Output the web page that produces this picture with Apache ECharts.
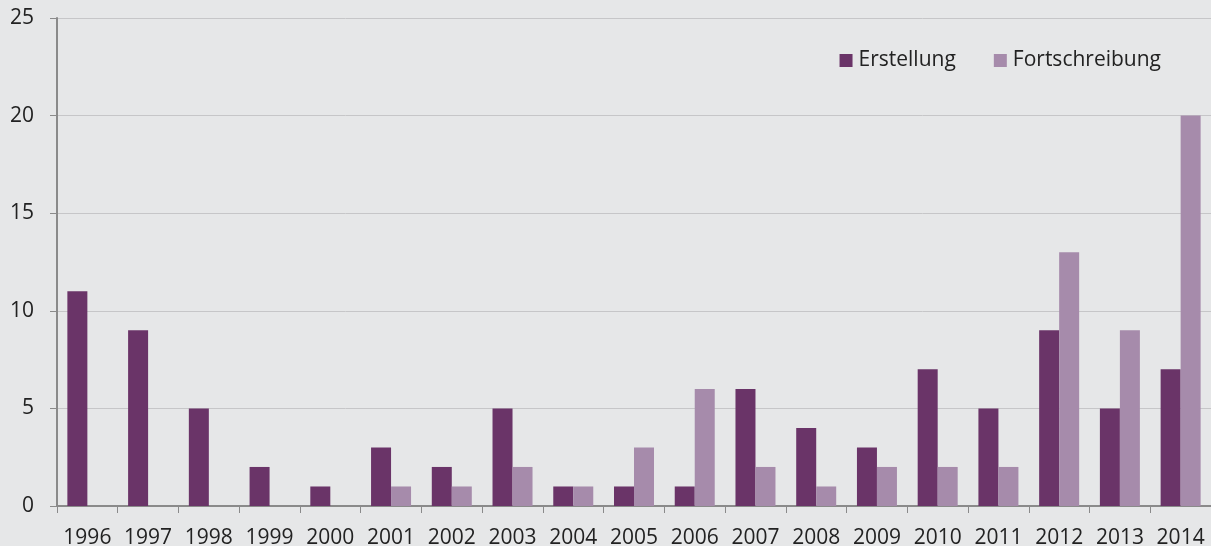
<!DOCTYPE html>
<html><head><meta charset="utf-8">
<script src="https://cdn.jsdelivr.net/npm/echarts@6/dist/echarts.min.js"></script>
<style>html,body{margin:0;padding:0;background:#e6e7e8}#c{width:1211px;height:546px}</style>
</head><body><div id="c"></div>
<script>
const years = ['1996','1997','1998','1999','2000','2001','2002','2003','2004','2005','2006','2007','2008','2009','2010','2011','2012','2013','2014'];
const erstellung = [11,9,5,2,1,3,2,5,1,1,1,6,4,3,7,5,9,5,7];
const fortschreibung = [0,0,0,0,0,1,1,2,1,3,6,2,1,2,2,2,13,9,20];
const yTicks = [0,5,10,15,20,25];

const chart = echarts.init(document.getElementById('c'), null, {renderer:'canvas'});
const font = '"Open Sans", "Noto Sans", sans-serif';
chart.setOption({
  backgroundColor:'#e6e7e8',
  animation:false,
  textStyle:{fontFamily:font},
  legend:{
    top:45, right:45, itemWidth:13, itemHeight:13, itemGap:38,
    icon:'rect',
    textStyle:{fontSize:21, lineHeight:21, color:'#222', fontFamily:font, padding:[0,0,0,1]},
    data:['Erstellung','Fortschreibung']
  },
  grid:{left:57, right:0, top:18, bottom:40, containLabel:false, outerBoundsMode:'none'},
  xAxis:{
    type:'category', data:years,
    axisLine:{lineStyle:{color:'#8a8a8a', width:2}},
    axisTick:{show:true, length:7, lineStyle:{color:'#8a8a8a', width:1}, alignWithLabel:false},
    axisLabel:{fontSize:21, color:'#222', margin:22, interval:0, hideOverlap:false, fontFamily:font}
  },
  yAxis:{
    type:'value', min:yTicks[0], max:yTicks[yTicks.length-1], interval:5,
    axisLine:{show:true, lineStyle:{color:'#8a8a8a', width:2}},
    axisTick:{show:true, length:7, lineStyle:{color:'#8a8a8a'}},
    axisLabel:{fontSize:21, color:'#222', margin:23, fontFamily:font},
    splitLine:{lineStyle:{color:'#c6c6c8', width:1}}
  },
  series:[
    {name:'Erstellung', type:'bar', data:erstellung, barWidth:20, barGap:'0%', itemStyle:{color:'#6a3468'}},
    {name:'Fortschreibung', type:'bar', data:fortschreibung, barWidth:20, barGap:'0%', itemStyle:{color:'#a68bab'}}
  ]
});
</script></body></html>
